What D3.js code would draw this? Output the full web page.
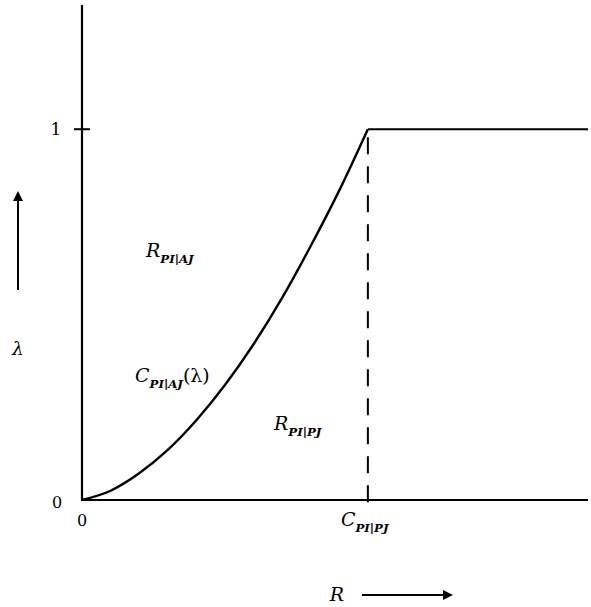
<!DOCTYPE html>
<html>
<head>
<meta charset="utf-8">
<script src="https://cdn.jsdelivr.net/npm/d3@7"></script>
<style>
  body { margin: 0; background: #fff; }
  text { font-family: "DejaVu Serif", "Liberation Serif", serif; fill: #000; }
</style>
</head>
<body>
<svg id="chart" width="591" height="607"></svg>
<script>
// capacity curve C_PI|AJ(lambda), R normalised so C_PI|PJ = 1
const curveR      = [0, 0.1, 0.2, 0.3, 0.4, 0.5, 0.6, 0.7, 0.8, 0.9, 1];
const curveLambda = [0, 0.025, 0.072, 0.135, 0.215, 0.31, 0.42, 0.545, 0.685, 0.835, 1];
const flatR       = [1, 1.77];
const flatLambda  = [1, 1];
const yTicks      = [1];
const xMax = 1.77, yMax = 1.335;

const svg = d3.select("#chart");

const xS = d3.scaleLinear().domain([0, xMax]).range([82, 588]);
const yS = d3.scaleLinear().domain([0, yMax]).range([500, 5]);

// axes
svg.append("line")
  .attr("x1", xS(0)).attr("x2", xS(0))
  .attr("y1", yS(0) + 1).attr("y2", yS(yMax))
  .attr("stroke", "#000").attr("stroke-width", 2.2);
svg.append("line")
  .attr("x1", xS(0) - 1).attr("x2", xS(xMax))
  .attr("y1", yS(0)).attr("y2", yS(0))
  .attr("stroke", "#000").attr("stroke-width", 2);

// y tick at 1
svg.selectAll(".ytick")
  .data(yTicks)
  .enter()
    .append("line")
      .attr("class", "ytick")
      .attr("x1", xS(0) - 8).attr("x2", xS(0) + 8)
      .attr("y1", d => yS(d)).attr("y2", d => yS(d))
      .attr("stroke", "#000").attr("stroke-width", 2);
svg.selectAll(".ylab")
  .data(yTicks)
  .enter()
    .append("text")
      .attr("class", "ylab")
      .attr("x", 56).attr("y", d => yS(d) + 6)
      .attr("text-anchor", "middle")
      .style("font-size", "17px")
      .text(d => d);

// zeros
svg.append("text").attr("x", 57).attr("y", yS(0) + 8)
  .attr("text-anchor", "middle").style("font-size", "16px").text("0");
svg.append("text").attr("x", xS(0)).attr("y", yS(0) + 26)
  .attr("text-anchor", "middle").style("font-size", "16px").text("0");

// curve
const line = d3.line()
  .x(d => xS(d[0]))
  .y(d => yS(d[1]))
  .curve(d3.curveMonotoneX);

svg.append("path")
  .datum(d3.zip(curveR, curveLambda))
  .attr("d", line)
  .attr("fill", "none").attr("stroke", "#000").attr("stroke-width", 2.4);

// flat part
svg.append("path")
  .datum(d3.zip(flatR, flatLambda))
  .attr("d", d3.line().x(d => xS(d[0])).y(d => yS(d[1])))
  .attr("fill", "none").attr("stroke", "#000").attr("stroke-width", 2);

// dashed line at C_PI|PJ
svg.append("line")
  .attr("x1", xS(1)).attr("x2", xS(1))
  .attr("y1", yS(1) + 8).attr("y2", yS(0) + 4)
  .attr("stroke", "#000").attr("stroke-width", 2)
  .attr("stroke-dasharray", "17,12");

// label with subscript
function subLabel(x, y, main, sub, extra, size) {
  const t = svg.append("text")
    .attr("x", x).attr("y", y)
    .style("font-size", size + "px")
    .style("font-style", "italic");
  t.append("tspan").text(main);
  t.append("tspan")
    .attr("dy", size * 0.3)
    .style("font-size", (size * 0.62) + "px")
    .style("font-weight", "bold")
    .text(sub);
  if (extra) {
    t.append("tspan")
      .attr("dy", -size * 0.3)
      .style("font-style", "normal")
      .text(extra);
  }
  return t;
}

subLabel(146, 257, "R", "PI|AJ", null, 19);
subLabel(135, 382, "C", "PI|AJ", "(λ)", 19);
subLabel(274, 430, "R", "PI|PJ", null, 19);
subLabel(xS(1) - 27, yS(0) + 26, "C", "PI|PJ", null, 19);

// lambda arrow
const defs = svg.append("defs");
defs.append("marker")
  .attr("id", "arr").attr("viewBox", "0 0 10 10")
  .attr("refX", 5).attr("refY", 5)
  .attr("markerWidth", 5).attr("markerHeight", 5)
  .attr("orient", "auto")
  .append("path").attr("d", "M0,0 L10,5 L0,10 z").attr("fill", "#000");

svg.append("line")
  .attr("x1", 18).attr("x2", 18).attr("y1", 290).attr("y2", 196)
  .attr("stroke", "#000").attr("stroke-width", 2)
  .attr("marker-end", "url(#arr)");
svg.append("text").attr("x", 18).attr("y", 355)
  .attr("text-anchor", "middle").style("font-size", "18px")
  .style("font-style", "italic").text("λ");

// R arrow
svg.append("text").attr("x", 337).attr("y", 601)
  .attr("text-anchor", "middle").style("font-size", "19px")
  .style("font-style", "italic").text("R");
svg.append("line")
  .attr("x1", 362).attr("x2", 448).attr("y1", 595).attr("y2", 595)
  .attr("stroke", "#000").attr("stroke-width", 2)
  .attr("marker-end", "url(#arr)");
</script>
</body>
</html>
